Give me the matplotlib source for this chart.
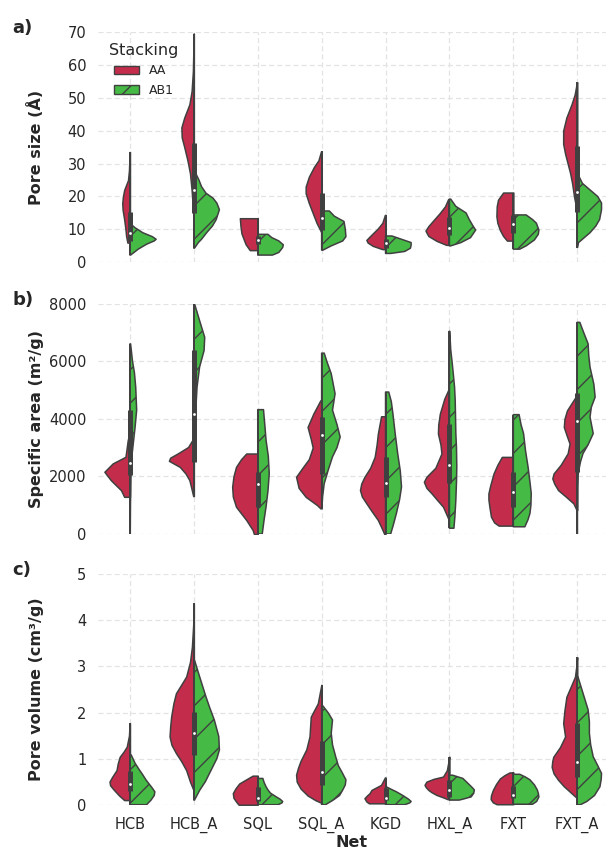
import numpy as np
import matplotlib.pyplot as plt
from matplotlib.patches import Patch

nets = ["HCB", "HCB_A", "SQL", "SQL_A", "KGD", "HXL_A", "FXT", "FXT_A"]
stackings = ["AA", "AB1"]

# Violin outlines: value levels and half widths (category units)
# a) pore size
size_aa_y = [[6, 8, 10, 13, 16, 18, 20, 22, 25, 28, 33.5],
             [14.5, 18, 22, 27, 31, 35, 38, 41, 44, 48, 52, 58, 64, 69.5],
             [3.7, 5.5, 8.8, 11, 13.4],
             [9.3, 12, 15, 18, 21, 23, 26, 29, 31, 33.7],
             [4, 5, 6, 6.8, 8, 10.3, 12, 14.4],
             [5.3, 6.5, 8, 9.6, 11, 13, 15, 17, 19.2],
             [6.6, 8, 9.8, 12, 14, 17, 19, 21.2],
             [14, 17, 20, 24, 27, 30, 33, 36, 40, 44, 48, 51, 54.7]]
size_aa_w = [[0.04, 0.06, 0.07, 0.09, 0.115, 0.12, 0.11, 0.09, 0.03, 0.015, 0.005],
             [0.005, 0.02, 0.035, 0.06, 0.1, 0.15, 0.19, 0.195, 0.15, 0.07, 0.035, 0.015, 0.008, 0.004],
             [0.125, 0.19, 0.255, 0.27, 0.28],
             [0.01, 0.08, 0.14, 0.2, 0.25, 0.25, 0.2, 0.12, 0.05, 0.01],
             [0.05, 0.2, 0.28, 0.30, 0.24, 0.12, 0.05, 0.01],
             [0.05, 0.2, 0.33, 0.375, 0.33, 0.24, 0.15, 0.07, 0.02],
             [0.1, 0.16, 0.21, 0.25, 0.265, 0.26, 0.24, 0.16],
             [0.005, 0.02, 0.05, 0.08, 0.11, 0.15, 0.19, 0.22, 0.22, 0.17, 0.09, 0.04, 0.005]]
size_ab_y = [[2.2, 4, 5.5, 6.5, 7, 7.8, 9, 10.5, 11.5],
             [4.3, 6, 7, 9, 11, 13, 16, 18, 19.5, 21, 23, 25, 27, 30],
             [2.2, 3, 4.5, 5.3, 6.5, 7.5, 8.5],
             [3.7, 5, 6.5, 7.8, 10, 12.4, 14, 15.6],
             [2.7, 3.3, 4.3, 5.2, 6, 7, 8],
             [5, 6, 7.5, 9.8, 11, 13, 15, 17, 19.2],
             [4, 5, 6.8, 8.5, 9.8, 11.9, 13, 14.4],
             [4.5, 6, 7, 9, 11, 13, 16, 18, 20, 22, 24, 26, 28]]
size_ab_w = [[0.01, 0.13, 0.26, 0.38, 0.41, 0.35, 0.2, 0.08, 0.02],
             [0.01, 0.07, 0.12, 0.2, 0.29, 0.35, 0.40, 0.36, 0.3, 0.19, 0.12, 0.08, 0.03, 0.01],
             [0.23, 0.33, 0.39, 0.40, 0.33, 0.22, 0.16],
             [0.02, 0.15, 0.33, 0.38, 0.37, 0.35, 0.2, 0.12],
             [0.08, 0.3, 0.39, 0.40, 0.40, 0.25, 0.1],
             [0.02, 0.18, 0.33, 0.41, 0.37, 0.31, 0.26, 0.1, 0.02],
             [0.1, 0.2, 0.33, 0.39, 0.40, 0.36, 0.3, 0.2],
             [0.005, 0.02, 0.08, 0.2, 0.29, 0.35, 0.38, 0.38, 0.32, 0.2, 0.08, 0.03, 0.01]]
# inner box (both stackings together): min, q1, median, q3, max
size_box = [[2.2, 4.3, 2.2, 3.7, 2.7, 5, 4, 4.5],
            [6.5, 14.9, 5.6, 9.9, 4.4, 8.3, 8.9, 15.4],
            [8.8, 22, 6.9, 13.4, 5.8, 10.4, 11.6, 21.5],
            [15.2, 36.4, 8, 21, 7.1, 13.9, 14.4, 35.4],
            [33.5, 69.5, 13.4, 33.7, 14.4, 19.2, 21.2, 54.7]]

# b) specific area
area_aa_y = [[1290, 1520, 1870, 2160, 2450, 2680, 3000, 3250, 3480],
             [1316, 1600, 1870, 2100, 2330, 2540, 2650, 2800, 3020, 3310],
             [0, 140, 485, 945, 1300, 1640, 2000, 2330, 2600, 2794],
             [890, 1000, 1290, 1600, 1985, 2300, 2600, 3000, 3300, 3716, 4180, 4640],
             [0, 200, 485, 800, 1063, 1300, 1524, 1750, 1985, 2300, 2677, 3100, 3487, 4087],
             [540, 945, 1200, 1410, 1600, 1812, 1985, 2300, 2794, 3100, 3487, 3800, 4180, 4700, 5045],
             [290, 400, 600, 945, 1200, 1409, 1700, 2100, 2400, 2677],
             [830, 1063, 1300, 1524, 1750, 1930, 2100, 2400, 2800, 3140, 3450, 3716, 4000, 4294, 4814]]
area_aa_w = [[0.09, 0.14, 0.30, 0.40, 0.27, 0.07, 0.05, 0.035, 0.01],
             [0.01, 0.04, 0.07, 0.13, 0.22, 0.39, 0.37, 0.25, 0.09, 0.01],
             [0.06, 0.08, 0.18, 0.34, 0.39, 0.40, 0.38, 0.34, 0.26, 0.18],
             [0.02, 0.07, 0.25, 0.36, 0.40, 0.3, 0.2, 0.14, 0.17, 0.22, 0.13, 0.02],
             [0.02, 0.06, 0.12, 0.22, 0.30, 0.37, 0.40, 0.38, 0.33, 0.24, 0.17, 0.14, 0.12, 0.07],
             [0.02, 0.10, 0.2, 0.28, 0.36, 0.40, 0.36, 0.22, 0.125, 0.14, 0.18, 0.175, 0.15, 0.08, 0.01],
             [0.23, 0.3, 0.35, 0.375, 0.39, 0.39, 0.36, 0.31, 0.25, 0.18],
             [0.01, 0.06, 0.18, 0.30, 0.36, 0.39, 0.37, 0.26, 0.15, 0.12, 0.17, 0.21, 0.2, 0.16, 0.01]]
area_ab_y = [[0, 1000, 2000, 2700, 3300, 3700, 4300, 5100, 5600, 6000, 6600],
             [2550, 3300, 4300, 5100, 5800, 6370, 6830, 7410, 8000],
             [0, 500, 945, 1500, 2100, 2700, 3255, 3800, 4318],
             [950, 1300, 1750, 2200, 2680, 3000, 3370, 3800, 4300, 4870, 5565, 6000, 6280],
             [0, 300, 716, 1200, 1638, 2200, 2794, 3500, 4180, 4600, 4929],
             [200, 600, 1177, 1800, 2331, 3000, 3487, 4100, 4640, 5100, 5565, 6000, 6400, 7040],
             [250, 500, 716, 1000, 1409, 1800, 2331, 2900, 3487, 3800, 4145],
             [0, 800, 1600, 2100, 2500, 2794, 3100, 3487, 4062, 4400, 4756, 5200, 5794, 6200, 6605, 7000, 7350]]
area_ab_w = [[0.005, 0.008, 0.015, 0.03, 0.06, 0.08, 0.105, 0.09, 0.07, 0.04, 0.01],
             [0.005, 0.015, 0.03, 0.05, 0.09, 0.16, 0.17, 0.09, 0.01],
             [0.07, 0.1, 0.13, 0.16, 0.18, 0.165, 0.13, 0.11, 0.09],
             [0.005, 0.015, 0.04, 0.1, 0.17, 0.24, 0.29, 0.24, 0.17, 0.21, 0.15, 0.08, 0.04],
             [0.08, 0.12, 0.17, 0.22, 0.25, 0.23, 0.19, 0.15, 0.115, 0.09, 0.05],
             [0.07, 0.085, 0.10, 0.11, 0.115, 0.11, 0.10, 0.095, 0.09, 0.08, 0.06, 0.04, 0.02, 0.005],
             [0.18, 0.23, 0.26, 0.275, 0.28, 0.26, 0.23, 0.19, 0.16, 0.12, 0.09],
             [0.003, 0.003, 0.005, 0.015, 0.05, 0.09, 0.17, 0.25, 0.2, 0.22, 0.28, 0.26, 0.2, 0.18, 0.17, 0.1, 0.04]]
area_box = [[0, 1316, 0, 890, 0, 200, 250, 0],
            [2043, 2504, 945, 2100, 1292, 1755, 945, 2158],
            [2448, 4156, 1720, 3452, 1777, 2390, 1465, 3925],
            [4294, 6372, 2158, 4062, 2677, 3810, 2158, 4893],
            [6600, 8000, 4318, 6280, 4929, 7040, 4145, 7350]]

# c) pore volume
vol_aa_y = [[0.1, 0.2, 0.32, 0.42, 0.5, 0.6, 0.75, 0.9, 1.04, 1.15, 1.26, 1.5, 1.77],
            [0.33, 0.5, 0.75, 0.95, 1.12, 1.3, 1.48, 1.7, 1.91, 2.2, 2.42, 2.6, 2.78, 3.1, 3.43, 3.9, 4.37],
            [0, 0.07, 0.15, 0.25, 0.35, 0.46, 0.55, 0.63],
            [0.05, 0.1, 0.2, 0.35, 0.5, 0.65, 0.8, 0.95, 1.2, 1.48, 1.7, 1.91, 2.2, 2.6],
            [0.03, 0.07, 0.14, 0.2, 0.25, 0.32, 0.43, 0.59],
            [0.12, 0.16, 0.21, 0.27, 0.32, 0.38, 0.43, 0.5, 0.56, 0.61, 0.75, 0.9, 1.04],
            [0.01, 0.05, 0.12, 0.2, 0.32, 0.45, 0.57, 0.64, 0.7],
            [0.15, 0.25, 0.4, 0.54, 0.68, 0.82, 0.95, 1.04, 1.25, 1.48, 1.77, 2.05, 2.34, 2.6, 2.78, 3.0, 3.2]]
vol_aa_w = [[0.09, 0.17, 0.25, 0.31, 0.32, 0.28, 0.21, 0.19, 0.16, 0.1, 0.05, 0.015, 0.005],
            [0.01, 0.06, 0.12, 0.2, 0.28, 0.35, 0.38, 0.37, 0.355, 0.32, 0.28, 0.2, 0.12, 0.06, 0.03, 0.01, 0.003],
            [0.3, 0.34, 0.38, 0.39, 0.35, 0.29, 0.18, 0.08],
            [0.02, 0.1, 0.22, 0.33, 0.39, 0.4, 0.37, 0.33, 0.24, 0.19, 0.18, 0.17, 0.06, 0.005],
            [0.26, 0.30, 0.33, 0.29, 0.25, 0.22, 0.07, 0.01],
            [0.03, 0.1, 0.2, 0.28, 0.33, 0.37, 0.39, 0.36, 0.25, 0.1, 0.04, 0.02, 0.005],
            [0.26, 0.32, 0.355, 0.35, 0.32, 0.27, 0.21, 0.14, 0.06],
            [0.01, 0.09, 0.21, 0.30, 0.37, 0.40, 0.39, 0.375, 0.27, 0.19, 0.22, 0.2, 0.17, 0.09, 0.035, 0.015, 0.003]]
vol_ab_y = [[0, 0.1, 0.2, 0.28, 0.36, 0.45, 0.54, 0.65, 0.75, 0.9, 1.08],
            [0.1, 0.31, 0.5, 0.75, 1.0, 1.19, 1.48, 1.84, 2.1, 2.34, 2.78, 3.14],
            [0, 0.04, 0.07, 0.12, 0.17, 0.25, 0.32, 0.39, 0.48, 0.57],
            [0, 0.1, 0.2, 0.32, 0.43, 0.54, 0.7, 0.85, 1.04, 1.3, 1.55, 1.84, 2.0, 2.16],
            [0, 0.04, 0.07, 0.12, 0.2, 0.28, 0.34, 0.39],
            [0.1, 0.12, 0.17, 0.25, 0.32, 0.36, 0.45, 0.57, 0.64],
            [0.01, 0.07, 0.17, 0.25, 0.32, 0.43, 0.54, 0.6, 0.66],
            [0, 0.07, 0.2, 0.39, 0.55, 0.68, 0.85, 1.04, 1.3, 1.55, 1.8, 2.06, 2.42, 2.78]]
vol_ab_w = [[0.26, 0.33, 0.38, 0.39, 0.35, 0.3, 0.25, 0.2, 0.15, 0.08, 0.02],
            [0.01, 0.09, 0.18, 0.27, 0.36, 0.40, 0.39, 0.32, 0.25, 0.19, 0.09, 0.01],
            [0.32, 0.38, 0.39, 0.35, 0.29, 0.2, 0.16, 0.13, 0.1, 0.08],
            [0.06, 0.18, 0.28, 0.33, 0.37, 0.38, 0.32, 0.26, 0.22, 0.17, 0.15, 0.17, 0.1, 0.01],
            [0.3, 0.38, 0.40, 0.36, 0.27, 0.17, 0.08, 0.01],
            [0.15, 0.21, 0.34, 0.38, 0.39, 0.365, 0.3, 0.21, 0.05],
            [0.3, 0.365, 0.40, 0.39, 0.375, 0.33, 0.26, 0.19, 0.1],
            [0.05, 0.15, 0.27, 0.355, 0.375, 0.38, 0.32, 0.25, 0.21, 0.19, 0.19, 0.17, 0.09, 0.01]]
vol_box = [[0, 0.1, 0, 0, 0, 0.1, 0, 0],
           [0.3, 1.08, 0.07, 0.43, 0.1, 0.16, 0.14, 0.61],
           [0.45, 1.56, 0.14, 0.72, 0.14, 0.32, 0.21, 0.93],
           [0.73, 2.02, 0.38, 1.39, 0.36, 0.54, 0.41, 1.78],
           [1.77, 4.37, 0.63, 2.6, 0.59, 1.04, 0.7, 3.2]]

c_aa = "#C32D4B"
c_ab = "#45BA45"
edge = "#404040"
text_c = "#262626"

plt.rcParams["font.family"] = "DejaVu Sans"
plt.rcParams["hatch.linewidth"] = 1.0


def draw_panel(ax, aa_y, aa_w, ab_y, ab_w, box):
    for i in range(len(nets)):
        ax.fill_betweenx(aa_y[i], i - np.array(aa_w[i]), i, facecolor=c_aa,
                         edgecolor=edge, linewidth=1.1, zorder=2)
        ax.fill_betweenx(ab_y[i], i, i + np.array(ab_w[i]), facecolor=c_ab,
                         edgecolor=edge, hatch="/", linewidth=1.1, zorder=2)
    lo, q1, med, q3, hi = box
    x = np.arange(len(nets))
    ax.vlines(x, lo, hi, color=edge, linewidth=1.4, zorder=3)
    ax.vlines(x, q1, q3, color=edge, linewidth=3.6, zorder=3)
    ax.scatter(x, med, s=4, color="white", linewidths=0, zorder=4)


fig = plt.figure(figsize=(6.06, 8.5), dpi=100)
panels = [
    ("a)", "Pore size (Å)", size_aa_y, size_aa_w, size_ab_y, size_ab_w, size_box, 70, 10, 0.6914),
    ("b)", "Specific area (m²/g)", area_aa_y, area_aa_w, area_ab_y, area_ab_w, area_box, 8000, 2000, 0.3718),
    ("c)", "Pore volume (cm³/g)", vol_aa_y, vol_aa_w, vol_ab_y, vol_ab_w, vol_box, 5, 1, 0.0533),
]

axes = []
for tag, ylab, aa_y, aa_w, ab_y, ab_w, box, ymax, step, bottom in panels:
    ax = fig.add_axes([98 / 606, bottom, 508 / 606, 0.271])
    ax.set_axisbelow(True)
    ax.grid(True, color="#e3e3e3", linewidth=0.9, linestyle=(0, (4, 2.5)))
    draw_panel(ax, aa_y, aa_w, ab_y, ab_w, box)
    ax.set_xlim(-0.5, 7.45)
    ax.set_ylim(0, ymax)
    ax.set_yticks(np.arange(0, ymax + step / 2, step))
    ax.set_xticks(range(len(nets)))
    ax.set_xticklabels([])
    for s in ax.spines.values():
        s.set_visible(False)
    ax.tick_params(length=0, pad=8.5, labelsize=10.5, colors=text_c)
    ax.set_ylabel(ylab, fontsize=11.5, fontweight="bold", color=text_c)
    ax.yaxis.set_label_coords(-0.107, 0.5)
    top = bottom + 0.271
    fig.text(12 / 606, top + 13 / 850, tag, fontsize=13, fontweight="bold",
             color=text_c, va="top", ha="left")
    axes.append(ax)

axes[2].set_xticklabels(nets)
axes[2].set_xlabel("Net", fontsize=11.5, fontweight="bold", color=text_c, labelpad=2)

handles = [Patch(facecolor=c_aa, edgecolor=edge, label=stackings[0]),
           Patch(facecolor=c_ab, edgecolor=edge, hatch="//", label=stackings[1])]
leg = axes[0].legend(handles=handles, title="Stacking", loc="upper left",
                     frameon=False, fontsize=9, title_fontsize=11.5)
for t in leg.get_texts():
    t.set_color(text_c)
leg.get_title().set_color(text_c)

fig.savefig("out.png", dpi=100)
